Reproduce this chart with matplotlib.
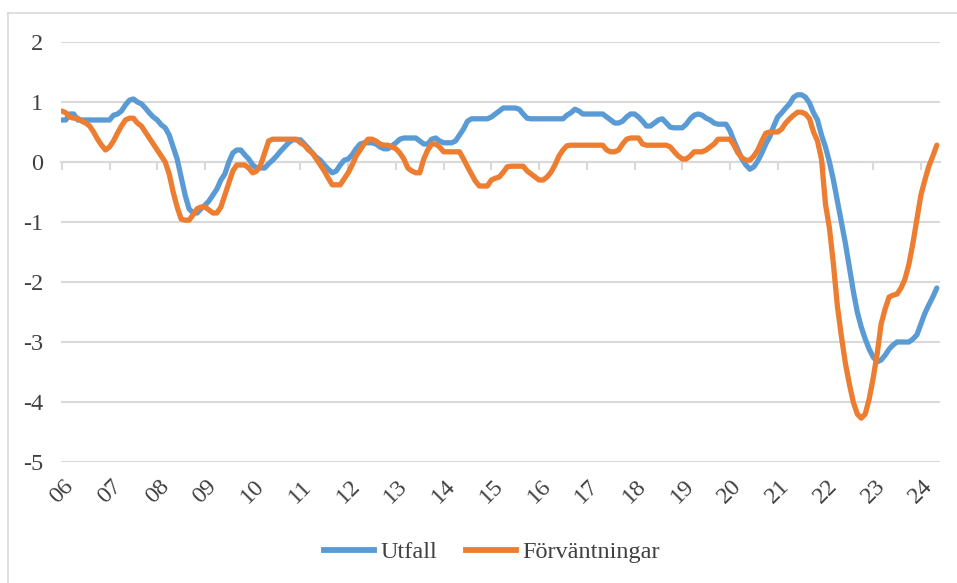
import numpy as np
import matplotlib
matplotlib.use("Agg")
import matplotlib.pyplot as plt
from matplotlib.lines import Line2D
import matplotlib.transforms as mtransforms

# monthly values, Jan 2006 - May 2024
utfall = [
    0.7, 0.7, 0.8, 0.8, 0.7, 0.7, 0.7, 0.7, 0.7, 0.7, 0.7, 0.7,              # 2006
    0.7, 0.78, 0.8, 0.85, 0.95, 1.03, 1.05, 1.0, 0.97, 0.9, 0.82, 0.75,      # 2007
    0.7, 0.62, 0.57, 0.45, 0.25, 0.05, -0.25, -0.55, -0.78, -0.85, -0.85, -0.78,  # 2008
    -0.72, -0.65, -0.55, -0.45, -0.3, -0.2, 0.0, 0.15, 0.2, 0.2, 0.12, 0.05,  # 2009
    -0.05, -0.1, -0.1, -0.1, -0.03, 0.03, 0.1, 0.18, 0.25, 0.32, 0.37, 0.37,  # 2010
    0.37, 0.3, 0.23, 0.15, 0.08, 0.03, -0.05, -0.12, -0.18, -0.15, -0.05, 0.03,  # 2011
    0.05, 0.12, 0.22, 0.3, 0.32, 0.32, 0.32, 0.3, 0.25, 0.22, 0.22, 0.27,    # 2012
    0.32, 0.38, 0.4, 0.4, 0.4, 0.4, 0.35, 0.3, 0.3, 0.38, 0.4, 0.35,         # 2013
    0.32, 0.32, 0.32, 0.35, 0.45, 0.55, 0.68, 0.72, 0.72, 0.72, 0.72, 0.72,  # 2014
    0.75, 0.8, 0.85, 0.9, 0.9, 0.9, 0.9, 0.88, 0.8, 0.73, 0.72, 0.72,        # 2015
    0.72, 0.72, 0.72, 0.72, 0.72, 0.72, 0.72, 0.78, 0.82, 0.88, 0.85, 0.8,   # 2016
    0.8, 0.8, 0.8, 0.8, 0.8, 0.75, 0.7, 0.65, 0.65, 0.68, 0.75, 0.8,         # 2017
    0.8, 0.75, 0.68, 0.6, 0.6, 0.65, 0.7, 0.72, 0.65, 0.58, 0.57, 0.57,      # 2018
    0.57, 0.63, 0.72, 0.78, 0.8, 0.78, 0.73, 0.7, 0.65, 0.63, 0.63, 0.63,    # 2019
    0.52, 0.35, 0.2, 0.05, -0.05, -0.12, -0.08, 0.02, 0.15, 0.3, 0.42, 0.6,  # 2020
    0.75, 0.82, 0.9, 0.97, 1.08, 1.12, 1.12, 1.08, 0.98, 0.82, 0.7, 0.45,    # 2021
    0.25, 0.0, -0.3, -0.65, -1.0, -1.35, -1.75, -2.15, -2.5, -2.75, -2.95, -3.12,  # 2022
    -3.25, -3.33, -3.3, -3.22, -3.12, -3.05, -3.0, -3.0, -3.0, -3.0, -2.95, -2.88,  # 2023
    -2.7, -2.52, -2.38, -2.25, -2.1,                                          # 2024
]
forvantningar = [
    0.85, 0.82, 0.75, 0.73, 0.73, 0.68, 0.65, 0.6, 0.5, 0.38, 0.28, 0.2,     # 2006
    0.25, 0.35, 0.48, 0.6, 0.7, 0.73, 0.73, 0.65, 0.6, 0.5, 0.4, 0.3,        # 2007
    0.2, 0.1, 0.0, -0.2, -0.5, -0.75, -0.95, -0.97, -0.97, -0.88, -0.78, -0.75,  # 2008
    -0.75, -0.8, -0.85, -0.85, -0.75, -0.55, -0.35, -0.15, -0.05, -0.05, -0.05, -0.1,  # 2009
    -0.18, -0.15, -0.05, 0.15, 0.35, 0.38, 0.38, 0.38, 0.38, 0.38, 0.38, 0.38,  # 2010
    0.32, 0.28, 0.2, 0.15, 0.05, -0.05, -0.15, -0.27, -0.38, -0.38, -0.38, -0.28,  # 2011
    -0.18, -0.05, 0.1, 0.2, 0.3, 0.38, 0.38, 0.35, 0.3, 0.28, 0.28, 0.25,    # 2012
    0.22, 0.15, 0.05, -0.1, -0.15, -0.18, -0.18, 0.05, 0.2, 0.3, 0.3, 0.25,  # 2013
    0.17, 0.17, 0.17, 0.17, 0.17, 0.05, -0.08, -0.2, -0.32, -0.4, -0.4, -0.4,  # 2014
    -0.3, -0.27, -0.25, -0.17, -0.08, -0.07, -0.07, -0.07, -0.07, -0.15, -0.2, -0.25,  # 2015
    -0.3, -0.3, -0.25, -0.17, -0.05, 0.1, 0.2, 0.27, 0.28, 0.28, 0.28, 0.28,  # 2016
    0.28, 0.28, 0.28, 0.28, 0.28, 0.2, 0.17, 0.17, 0.2, 0.3, 0.38, 0.4,      # 2017
    0.4, 0.4, 0.3, 0.28, 0.28, 0.28, 0.28, 0.28, 0.28, 0.25, 0.17, 0.1,      # 2018
    0.05, 0.05, 0.1, 0.17, 0.17, 0.17, 0.2, 0.25, 0.3, 0.38, 0.38, 0.38,     # 2019
    0.38, 0.28, 0.15, 0.07, 0.03, 0.03, 0.1, 0.2, 0.35, 0.48, 0.5, 0.5,      # 2020
    0.5, 0.55, 0.65, 0.72, 0.78, 0.83, 0.83, 0.8, 0.72, 0.5, 0.35, 0.05,     # 2021
    -0.7, -1.1, -1.7, -2.4, -2.9, -3.35, -3.7, -4.0, -4.2, -4.27, -4.2, -3.95,  # 2022
    -3.6, -3.2, -2.7, -2.45, -2.25, -2.22, -2.2, -2.1, -1.95, -1.7, -1.35, -0.95,  # 2023
    -0.55, -0.3, -0.07, 0.1, 0.28,                                            # 2024
]
year_labels = ["06", "07", "08", "09", "10", "11", "12", "13", "14", "15",
               "16", "17", "18", "19", "20", "21", "22", "23", "24"]
y_ticks = [2, 1, 0, -1, -2, -3, -4, -5]

BLUE = "#5B9BD5"
ORANGE = "#ED7D31"
GRID = "#D9D9D9"
TXT = "#404040"

plt.rcParams['font.family'] = ['Liberation Serif', 'DejaVu Serif']

W, H = 957, 583
fig = plt.figure(figsize=(W / 100, H / 100), dpi=100)
ax = fig.add_axes([61 / W, 1 - 462 / H, (940 - 61) / W, 420 / H])

months = np.arange(len(utfall))
ax.plot(months, utfall, color=BLUE, lw=3.8, solid_capstyle='round',
        solid_joinstyle='round', label='Utfall', zorder=3)
ax.plot(months, forvantningar, color=ORANGE, lw=3.8, solid_capstyle='round',
        solid_joinstyle='round', label='Förväntningar', zorder=3)

ax.set_xlim(-0.2, 220.8)
ax.set_ylim(-5, 2)

# y axis: gridlines only
ax.set_yticks(y_ticks)
ax.set_yticklabels([str(v) for v in y_ticks], fontsize=17.5, color=TXT)
ax.tick_params(axis='y', length=0, pad=13)
ax.yaxis.grid(True, color=GRID, lw=1.5)
ax.set_axisbelow(True)

# x axis crosses at zero
for s in ['top', 'right', 'left']:
    ax.spines[s].set_visible(False)
ax.spines['bottom'].set_position(('data', 0))
ax.spines['bottom'].set_color(GRID)
ax.spines['bottom'].set_linewidth(1.5)
year_pos = np.arange(len(year_labels)) * 12
ax.set_xticks(year_pos)
ax.set_xticklabels([])
ax.tick_params(axis='x', direction='out', length=6, width=1.5, color=GRID)

# year labels at the bottom of the plot area
trans = mtransforms.blended_transform_factory(ax.transData, ax.transAxes)
for pos, lab in zip(year_pos, year_labels):
    ax.text(pos, -0.07, lab, transform=trans, rotation=45, ha='center',
            va='center', fontsize=17.5, color=TXT, clip_on=False)

handles = [Line2D([], [], color=BLUE, lw=4.2), Line2D([], [], color=ORANGE, lw=4.2)]
fig.legend(handles, ['Utfall', 'Förväntningar'], loc='center',
           bbox_to_anchor=(492 / W, 1 - 552 / H), ncol=2, frameon=False,
           fontsize=17.5, handlelength=2.05, handletextpad=0.25, columnspacing=1.2,
           labelcolor=TXT)

# chart frame (only left and top edges visible)
fig.add_artist(Line2D([8 / W, 8 / W], [0, 1 - 13 / H], color=GRID, lw=1.2,
                      transform=fig.transFigure))
fig.add_artist(Line2D([8 / W, 1], [1 - 13 / H, 1 - 13 / H], color=GRID, lw=1.2,
                      transform=fig.transFigure))

fig.savefig("out.png", dpi=100)
